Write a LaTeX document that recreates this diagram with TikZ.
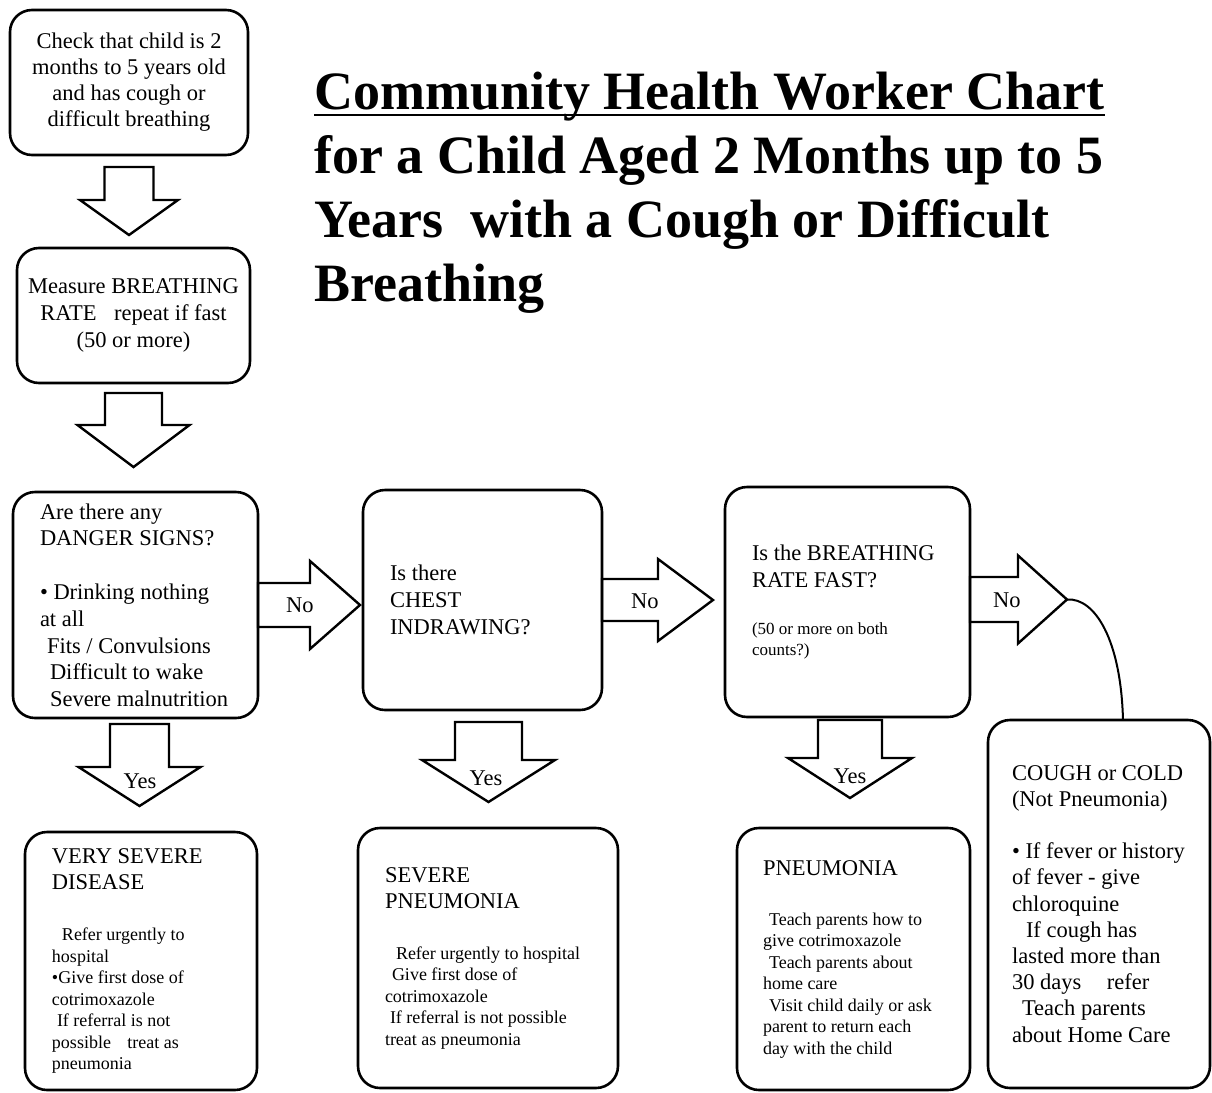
\documentclass[tikz,border=0pt]{standalone}
\usepackage{fontspec}
\setmainfont{Liberation Serif}
\usetikzlibrary{positioning}
\newcommand{\headfont}{\fontsize{11.25}{13}\selectfont}
\newcommand{\notefont}{\fontsize{8.5}{10.5}\selectfont}
\newcommand{\ulinetext}[1]{\leavevmode\setbox0\hbox{#1}\rlap{\rule[-3.4pt]{\wd0}{1.4pt}}\box0}
\tikzset{
  pics/blockarrow/.style args={#1/#2/#3/#4/#5}{code={
    \draw (#1,#3) -- ({#2-#5},#3) -- ({#2-#5},#4) -- (#2,0) coordinate (-tip)
      -- ({#2-#5},-#4) -- ({#2-#5},-#3) -- (#1,-#3) -- cycle;
  }}
}
\begin{document}
\begin{tikzpicture}[x=1pt, y=1pt, line width=1.2pt,
    box/.style={draw, rounded corners=11pt, line width=1.3pt, inner sep=0pt, outer sep=0pt, align=flush left},
    big/.style={font=\fontsize{11.25}{13.3}\selectfont},
    small/.style={font=\fontsize{9}{10.75}\selectfont},
    lbl/.style={inner sep=0pt, font=\fontsize{11.25}{13}\selectfont}]
    \useasboundingbox (0,0) rectangle (606,-546.5);
    \node[box, align=flush center, font=\fontsize{11.25}{13}\selectfont, text width=112pt, minimum width=119pt, minimum height=72.5pt] (check) at (64.5,-41.25) {Check that child is 2\\months to 5 years old\\and has cough or\\difficult breathing};
    \node[box, align=flush center, font=\fontsize{11.25}{13.5}\selectfont, text width=112pt, minimum width=116.5pt, minimum height=67.5pt, below=46.5pt of check, xshift=2.25pt] (measure) {Measure BREATHING\\RATE\hspace{6pt} repeat if fast\\(50 or more)};
    \node[box, big, text width=95.5pt, minimum width=122.5pt, minimum height=113pt, below=54.5pt of measure, xshift=1pt] (danger) {Are there any\\DANGER SIGNS?\\[13.7pt]• Drinking nothing\\at all\\\hspace*{3.5pt}Fits / Convulsions\\\hspace*{5pt}Difficult to wake\\\hspace*{5pt}\mbox{Severe malnutrition}};
    \node[box, font=\fontsize{11.25}{13.5}\selectfont, text width=92.5pt, minimum width=119.5pt, minimum height=110pt, right=52.5pt of danger, yshift=2.5pt] (chest) {Is there\\CHEST\\INDRAWING?};
    \node[box, font=\fontsize{11.25}{13.5}\selectfont, text width=95.5pt, minimum width=122.5pt, minimum height=115pt, right=61.5pt of chest, yshift=-1pt] (rate) {Is the BREATHING\\RATE FAST?\\[13pt]{\notefont (50 or more on both\\[-3pt]counts?)}};
    \node[box, font=\fontsize{11.25}{13.1}\selectfont, text width=87pt, minimum width=111pt, minimum height=184pt, right=9pt of rate.south east, anchor=north west, yshift=-1.5pt] (cough) {\mbox{COUGH or COLD}\\(Not Pneumonia)\\[12.9pt]\mbox{• If fever or history}\\of fever - give\\chloroquine\\\hspace*{7pt}If cough has\\lasted more than\\30 days\hspace{10pt} refer\\\hspace*{5pt}Teach parents\\about Home Care};
    \node[box, small, text width=89pt, minimum width=116pt, minimum height=129pt, below=57pt of danger, xshift=2.75pt] (verysevere) {{\headfont VERY SEVERE}\\[2.25pt]{\headfont DISEASE}\\[14.75pt]\hspace*{5pt}Refer urgently to\\hospital\\•Give first dose of\\cotrimoxazole\\\hspace*{2.5pt}If referral is not\\possible\hspace{6pt} treat as\\pneumonia};
    \node[box, small, text width=103pt, minimum width=130pt, minimum height=130pt, below=59pt of chest, xshift=2.75pt] (severe) {{\headfont SEVERE}\\[2.25pt]{\headfont PNEUMONIA}\\[14.75pt]\hspace*{5.5pt}\mbox{Refer urgently to hospital}\\\hspace*{3.5pt}Give first dose of\\cotrimoxazole\\\hspace*{2.5pt}\mbox{If referral is not possible}\\treat as pneumonia};
    \node[box, small, text width=90.5pt, minimum width=116.5pt, minimum height=131pt, below=55.5pt of rate, xshift=3pt] (pneu) {{\headfont PNEUMONIA}\\[14.25pt]\hspace*{3pt}Teach parents how to\\give cotrimoxazole\\\hspace*{3pt}Teach parents about\\home care\\\hspace*{3pt}\mbox{Visit child daily or ask}\\parent to return each\\day with the child};
    \node[lbl, anchor=north west, align=flush left, font=\fontsize{27}{32}\selectfont\bfseries] (title) at (156.5,-35.5) {\ulinetext{Community Health Worker Chart}\\for a Child Aged 2 Months up to 5\\Years\ \ with a Cough or Difficult\\Breathing};
    \pic[rotate=-90] at (check.south) {blockarrow=6/40/12.25/24.5/17.5};
    \pic[rotate=-90] at (measure.south) {blockarrow=5/42/14.25/28/21};
    \pic at (danger.east) {blockarrow=0/51/11/22/25};
    \pic at (chest.east) {blockarrow=0/55.5/10.5/20.5/27.5};
    \pic (rateno) at ([yshift=1.25pt]rate.east) {blockarrow=0/48.5/11.25/22/24.5};
    \pic[rotate=-90] at ([xshift=2pt]danger.south) {blockarrow=3/44/14.75/30.5/19.5};
    \pic[rotate=-90] at ([xshift=3pt]chest.south) {blockarrow=6/46/16.75/33.25/21};
    \pic[rotate=-90] at ([xshift=1.25pt]rate.south) {blockarrow=1.5/40.5/16/31/20};
    \node[lbl, right=13.5pt of danger.east] (no1) {No};
    \node[lbl, right=14pt of chest.east, yshift=-0.5pt] (no2) {No};
    \node[lbl, right=11pt of rate.east, yshift=1pt] (no3) {No};
    \node[lbl, below=27.5pt of danger.south, xshift=2.25pt] (yes1) {Yes};
    \node[lbl, below=30pt of chest.south, xshift=1.75pt] (yes2) {Yes};
    \node[lbl, below=25.5pt of rate.south, xshift=1.25pt] (yes3) {Yes};
    \draw[line width=1pt] (rateno-tip) .. controls +(14,1) and +(-1,40) .. ([xshift=12pt]cough.north);
\end{tikzpicture}
\end{document}
